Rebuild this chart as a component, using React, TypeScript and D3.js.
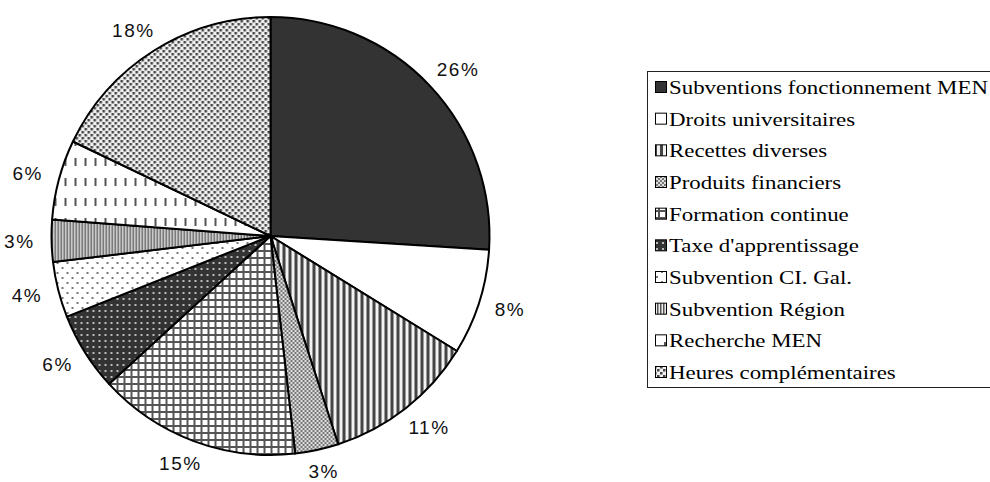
import React, { useEffect, useRef } from "react";
import * as d3 from "d3";

const categories = [
  "Subventions fonctionnement MEN",
  "Droits universitaires",
  "Recettes diverses",
  "Produits financiers",
  "Formation continue",
  "Taxe d'apprentissage",
  "Subvention CI. Gal.",
  "Subvention Région",
  "Recherche MEN",
  "Heures complémentaires",
];
const values = [26.0, 7.8, 11.2, 3.2, 15.0, 5.8, 4.1, 3.1, 5.9, 17.9];
const labels = ["26%", "8%", "11%", "3%", "15%", "6%", "4%", "3%", "6%", "18%"];
const patternIds = ["solid", "white", "stripes", "checker", "grid", "darkdots", "lightdots", "finestripes", "dashes", "zigzag"];

const W = 990;
const H = 482;

export default function App() {
  const ref = useRef<SVGSVGElement>(null);

  useEffect(() => {
    const svg = d3.select(ref.current);
    svg.selectAll("*").remove();

    const defs = svg.append("defs");
    const mk = (id: string, w: number, h: number) =>
      defs.append("pattern").attr("id", id).attr("patternUnits", "userSpaceOnUse").attr("width", w).attr("height", h);

    mk("solid", 4, 4).append("rect").attr("width", 4).attr("height", 4).attr("fill", "#333");
    mk("white", 4, 4).append("rect").attr("width", 4).attr("height", 4).attr("fill", "#fff");

    const st = mk("stripes", 6, 6);
    st.append("rect").attr("width", 6).attr("height", 6).attr("fill", "#f2f2f2");
    st.append("rect").attr("width", 3).attr("height", 6).attr("fill", "#444");

    const ck = mk("checker", 4, 4);
    ck.append("rect").attr("width", 4).attr("height", 4).attr("fill", "#ddd");
    ck.append("rect").attr("width", 2).attr("height", 2).attr("fill", "#777");
    ck.append("rect").attr("x", 2).attr("y", 2).attr("width", 2).attr("height", 2).attr("fill", "#777");

    const gr = mk("grid", 7, 7);
    gr.append("rect").attr("width", 7).attr("height", 7).attr("fill", "#fff");
    gr.append("rect").attr("width", 7).attr("height", 2).attr("fill", "#555");
    gr.append("rect").attr("width", 2).attr("height", 7).attr("fill", "#555");

    const dd = mk("darkdots", 6, 6);
    dd.append("rect").attr("width", 6).attr("height", 6).attr("fill", "#333");
    dd.append("rect").attr("x", 2).attr("y", 2).attr("width", 2).attr("height", 2).attr("fill", "#bbb");

    const ld = mk("lightdots", 10, 10);
    ld.append("rect").attr("width", 10).attr("height", 10).attr("fill", "#fff");
    ld.append("rect").attr("x", 1).attr("y", 1).attr("width", 2).attr("height", 2).attr("fill", "#777");
    ld.append("rect").attr("x", 6).attr("y", 6).attr("width", 2).attr("height", 2).attr("fill", "#777");

    const fs = mk("finestripes", 3, 3);
    fs.append("rect").attr("width", 3).attr("height", 3).attr("fill", "#eee");
    fs.append("rect").attr("width", 1.5).attr("height", 3).attr("fill", "#555");

    const ds = mk("dashes", 10, 20);
    ds.append("rect").attr("width", 10).attr("height", 20).attr("fill", "#fff");
    ds.append("rect").attr("x", 4).attr("y", 2).attr("width", 2).attr("height", 8).attr("fill", "#555");

    const zz = mk("zigzag", 6, 6);
    zz.append("rect").attr("width", 6).attr("height", 6).attr("fill", "#f0f0f0");
    zz.append("rect").attr("x", 0).attr("y", 0).attr("width", 2.5).attr("height", 2.5).attr("fill", "#444");
    zz.append("rect").attr("x", 3).attr("y", 3).attr("width", 2.5).attr("height", 2.5).attr("fill", "#444");

    const cx = 270.5;
    const cy = 236;
    const R = 219;

    const pie = d3.pie<number>().sort(null).value((d) => d);
    const arcs = pie(values);
    const arc = d3.arc<d3.PieArcDatum<number>>().innerRadius(0).outerRadius(R);

    const g = svg.append("g").attr("transform", `translate(${cx},${cy})`);
    g.selectAll("path.slice")
      .data(arcs)
      .join("path")
      .attr("class", "slice")
      .attr("d", arc)
      .attr("fill", (_, i) => `url(#${patternIds[i]})`)
      .attr("stroke", "#000")
      .attr("stroke-width", 2)
      .attr("stroke-linejoin", "round");

    const gap = 17;
    const fontSize = 19;
    const lg = g.append("g");
    arcs.forEach((a, i) => {
      const mid = (a.startAngle + a.endAngle) / 2;
      const ux = Math.sin(mid);
      const uy = -Math.cos(mid);
      const t = lg
        .append("text")
        .text(labels[i])
        .attr("font-family", "'Liberation Sans', Arial, sans-serif")
        .attr("font-size", fontSize)
        .attr("letter-spacing", 1.5)
        .attr("fill", "#111")
        .attr("text-anchor", "middle")
        .attr("dominant-baseline", "central");
      const bb = (t.node() as SVGTextElement).getBBox();
      const w = bb.width;
      const h = 14;
      const x = (R + gap) * ux + (ux * w) / 2;
      const y = Math.min((R + gap) * uy + (uy * h) / 2, H - cy - 11);
      t.attr("x", x).attr("y", y);
    });

    // legend
    const lx = 647;
    const ly = 71;
    const lh = 316;
    svg
      .append("rect")
      .attr("x", lx + 0.5)
      .attr("y", ly + 0.5)
      .attr("width", 400)
      .attr("height", lh)
      .attr("fill", "#fff")
      .attr("stroke", "#222")
      .attr("stroke-width", 1);

    const rowY = d3.scaleLinear().domain([0, categories.length - 1]).range([ly + 16, ly + 301]);
    const leg = svg.append("g");
    const texts: any[] = [];
    categories.forEach((c, i) => {
      const y = rowY(i);
      leg
        .append("rect")
        .attr("x", lx + 8.5)
        .attr("y", y - 5.5)
        .attr("width", 11)
        .attr("height", 11)
        .attr("fill", `url(#${patternIds[i]})`)
        .attr("stroke", "#000")
        .attr("stroke-width", 1);
      const t = leg
        .append("text")
        .attr("x", 0)
        .attr("y", 0)
        .attr("dominant-baseline", "central")
        .attr("font-family", "'Liberation Serif', 'Times New Roman', serif")
        .attr("font-size", 18)
        .attr("fill", "#000")
        .text(c);
      texts.push({ t, y });
    });
    const w0 = (texts[0].t.node() as SVGTextElement).getComputedTextLength();
    const target = 319;
    const sx = w0 > 0 ? target / w0 : 1;
    texts.forEach(({ t, y }) => {
      t.attr("transform", `translate(${lx + 22},${y + 1}) scale(${sx},1)`);
    });
  }, []);

  return (
    <svg
      ref={ref}
      width={W}
      height={H}
      style={{ position: "absolute", left: 0, top: 0, background: "#fff" }}
    />
  );
}
